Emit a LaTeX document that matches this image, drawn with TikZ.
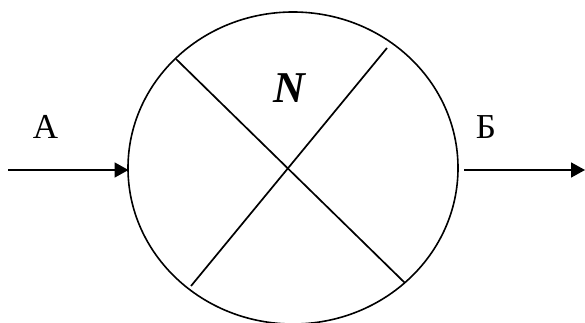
\documentclass[tikz,border=0pt]{standalone}
\usepackage{fontspec}
\setmainfont{Liberation Serif}[BoldItalicFont={Liberation Serif Bold Italic}]
\usetikzlibrary{arrows.meta,shapes.geometric}
\begin{document}
\begin{tikzpicture}[x=1pt,y=-1pt,
  line/.style={line width=1.7pt},
  flow/.style={line width=1.7pt,-{Triangle[length=14pt,width=15pt]}},
  lbl/.style={font=\fontsize{35}{40}\selectfont,anchor=base,inner sep=0pt}]
\useasboundingbox (0,0) rectangle (585,323);
\node[ellipse,draw,line width=1.6pt,minimum width=330pt,minimum height=312pt,inner sep=0pt] (circ) at (293,168) {};
\coordinate (l1a) at (176,59);
\coordinate (l1b) at (405,283);
\coordinate (l2a) at (387,48);
\coordinate (l2b) at (191,286);
\draw[line] (l1a) -- (l1b);
\draw[line] (l2a) -- (l2b);
\coordinate (inS) at (8,170);
\coordinate (inE) at (128.5,170);
\coordinate (outS) at (464,170);
\coordinate (outE) at (585,170);
\draw[flow] (inS) -- (inE);
\draw[flow] (outS) -- (outE);
\node[lbl] (A) at (45.5,139) {А};
\node[lbl] (B) at (486,139) {Б};
\node[lbl,font=\fontsize{44}{48}\selectfont\bfseries\itshape] (N) at (289,103) {N};
\end{tikzpicture}
\end{document}
